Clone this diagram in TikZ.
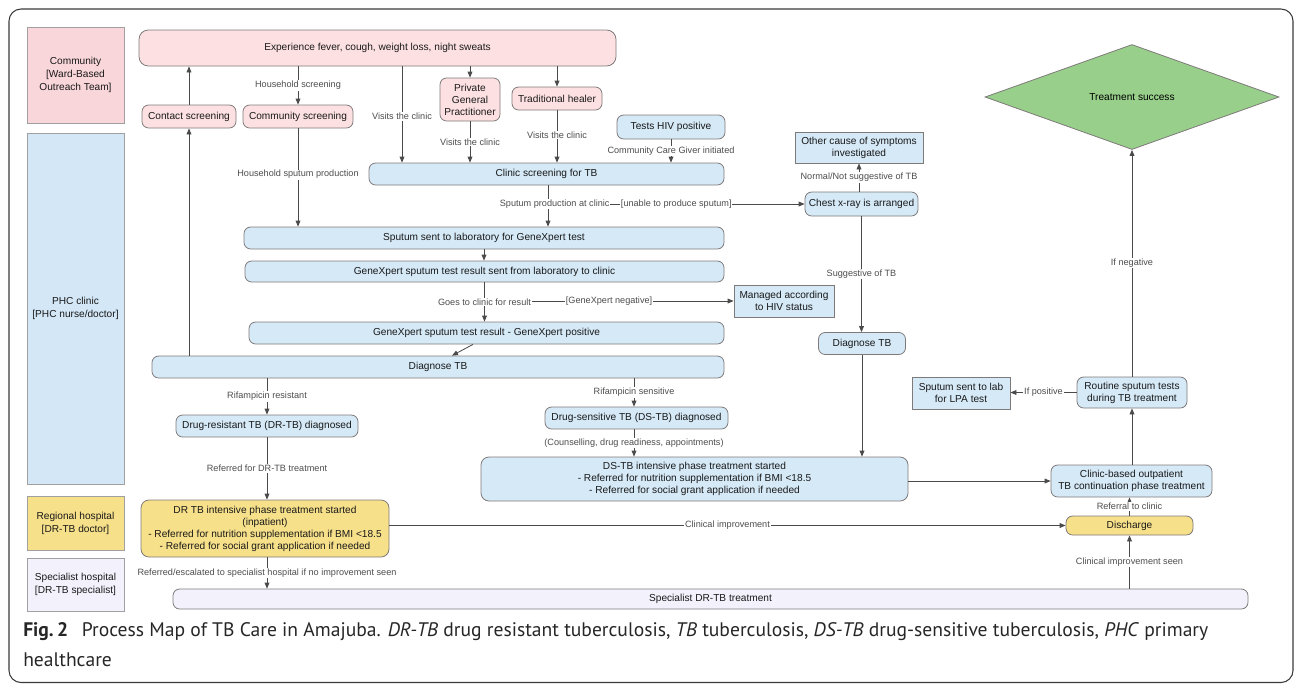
\documentclass[tikz,border=0pt]{standalone}
\usepackage{fontspec}
\usepackage{graphicx}
\setmainfont{Liberation Sans}
\newfontfamily\capfont{PT Sans}
\usetikzlibrary{arrows.meta,shapes.geometric,calc}
\definecolor{pinkf}{HTML}{FDE1E2}
\definecolor{pinklane}{HTML}{F9D6D9}
\definecolor{bluef}{HTML}{D5E9F7}
\definecolor{bluelane}{HTML}{D3E7F6}
\definecolor{yellowf}{HTML}{F7E08A}
\definecolor{lavf}{HTML}{F3F1FC}
\definecolor{greenf}{HTML}{98CF8A}
\definecolor{edgec}{HTML}{7F7A7A}
\definecolor{lanec}{HTML}{A0A0A0}
\definecolor{linec}{HTML}{4A4A4A}
\definecolor{lblc}{HTML}{4D4D4D}
\definecolor{framec}{HTML}{3A3A3A}
\newlength\capw
\newcommand\capone{{\bfseries Fig.\,2}\hspace{0.7em}Process Map of TB Care in Amajuba. \textit{DR-TB} drug resistant tuberculosis, \textit{TB} tuberculosis, \textit{DS-TB} drug-sensitive tuberculosis, \textit{PHC} primary}
\tikzset{
  box/.style={draw=edgec, line width=0.6pt, rounded corners=5pt, inner sep=1pt, align=center,
    font=\fontsize{7.6}{9}\selectfont, text=black!90},
  sqbox/.style={box, sharp corners},
  lane/.style={draw=lanec, line width=0.6pt, inner sep=1pt, align=center,
    font=\fontsize{7.6}{9.8}\selectfont, text=black!90},
  arr/.style={draw=linec, line width=0.6pt, -{Triangle[length=4.5pt,width=3.6pt]}},
  lbl/.style={fill=white, inner sep=0.6pt, font=\fontsize{6.85}{8}\selectfont, text=lblc},
}
\begin{document}
\settowidth\capw{\capfont\fontsize{10}{12}\selectfont\capone}
\begin{tikzpicture}[x=0.75pt,y=-0.75pt]
\useasboundingbox (0,0) rectangle (1295,683);
\pgfmathsetmacro\capscale{888.75pt/\capw}
% frame
\draw[framec, line width=0.8pt, rounded corners=9pt] (9,9) rectangle (1293,682.5);
% lanes
\node[lane, fill=pinklane, minimum width=72.75pt, minimum height=72pt] (laneC) at (75.5,75) {Community\\{}[Ward-Based\\Outreach Team]};
\node[lane, fill=bluelane, minimum width=72.75pt, minimum height=263.25pt] (laneP) at (75.5,308.5) {PHC clinic\\{}[PHC nurse/doctor]};
\node[lane, fill=yellowf, minimum width=72.75pt, minimum height=40.5pt] (laneR) at (75.5,523) {Regional hospital\\{}[DR-TB doctor]};
\node[lane, fill=lavf, minimum width=72.75pt, minimum height=39.75pt] (laneS) at (75.5,584.5) {Specialist hospital\\{}[DR-TB specialist]};
% nodes
\node[box, fill=pinkf, minimum width=357.75pt, minimum height=27pt, rounded corners=7pt] (exp) at (377.5,48) {Experience fever, cough, weight loss, night sweats};
\node[box, fill=pinkf, minimum width=70.5pt, minimum height=17.25pt] (contact) at (189,116.5) {Contact screening};
\node[box, fill=pinkf, minimum width=82.5pt, minimum height=17.25pt] (commscr) at (298,116.5) {Community screening};
\node[box, fill=pinkf, minimum width=45pt, minimum height=32.25pt] (gp) at (470,99.5) {Private\\General\\Practitioner};
\node[box, fill=pinkf, minimum width=67.5pt, minimum height=17.25pt] (healer) at (557,98.5) {Traditional healer};
\node[box, fill=bluef, minimum width=81pt, minimum height=18pt] (hiv) at (671,127) {Tests HIV positive};
\node[box, fill=bluef, minimum width=266.25pt, minimum height=16.5pt] (clinic) at (546.5,174) {Clinic screening for TB};
\node[sqbox, fill=bluef, minimum width=96pt, minimum height=23.25pt] (other) at (859,147.5) {Other cause of symptoms\\investigated};
\node[box, fill=bluef, minimum width=84.75pt, minimum height=18pt] (xray) at (861.5,204) {Chest x-ray is arranged};
\node[box, fill=bluef, minimum width=360pt, minimum height=16.5pt] (sputum) at (484,238) {Sputum sent to laboratory for GeneXpert test};
\node[box, fill=bluef, minimum width=359.25pt, minimum height=15.75pt] (gxsent) at (484.5,271.5) {GeneXpert sputum test result sent from laboratory to clinic};
\node[sqbox, fill=bluef, minimum width=75pt, minimum height=24pt] (managed) at (784,301) {Managed according\\to HIV status};
\node[box, fill=bluef, minimum width=356.25pt, minimum height=16.5pt] (gxpos) at (486.5,333) {GeneXpert sputum test result - GeneXpert positive};
\node[box, fill=bluef, minimum width=429pt, minimum height=16.5pt] (diag) at (438,367) {Diagnose TB};
\node[box, fill=bluef, minimum width=65.25pt, minimum height=16.5pt] (diag2) at (862,343.5) {Diagnose TB};
\node[box, fill=bluef, minimum width=136.5pt, minimum height=16.5pt] (drdiag) at (267,426) {Drug-resistant TB (DR-TB) diagnosed};
\node[box, fill=bluef, minimum width=137.25pt, minimum height=16.5pt] (dsdiag) at (636.5,418) {Drug-sensitive TB (DS-TB) diagnosed};
\node[box, fill=bluef, minimum width=320.25pt, minimum height=33pt, rounded corners=6pt] (dsint) at (694.5,479) {DS-TB intensive phase treatment started\\- Referred for nutrition supplementation if BMI <18.5\\- Referred for social grant application if needed};
\node[diamond, draw=edgec, line width=0.6pt, fill=greenf, inner sep=0pt, minimum width=220.5pt, minimum height=78.75pt, font=\fontsize{7.6}{9}\selectfont] (success) at (1132,97) {Treatment success};
\node[box, fill=bluef, minimum width=82.5pt, minimum height=23.25pt] (routine) at (1132,392.5) {Routine sputum tests\\during TB treatment};
\node[sqbox, fill=bluef, minimum width=73.5pt, minimum height=24pt] (lpa) at (961,393) {Sputum sent to lab\\for LPA test};
\node[box, fill=bluef, minimum width=120.75pt, minimum height=24pt] (cbo) at (1131.5,481) {Clinic-based outpatient\\TB continuation phase treatment};
\node[box, fill=yellowf, minimum width=95.25pt, minimum height=14.25pt] (discharge) at (1129.5,525.5) {Discharge};
\node[box, fill=yellowf, minimum width=186pt, minimum height=42.75pt, rounded corners=6pt] (drint) at (265,528.5) {DR TB intensive phase treatment started\\(inpatient)\\- Referred for nutrition supplementation if BMI <18.5\\- Referred for social grant application if needed};
\node[box, fill=lavf, minimum width=806.25pt, minimum height=15pt] (spec) at (710.5,599) {Specialist DR-TB treatment};
% helper coordinates
\coordinate (x402) at (402,0);
\coordinate (x548) at (548,0);
\coordinate (x473) at (473,0);
\coordinate (x452) at (452,0);
\coordinate (x634) at (634,0);
% edges
\draw[arr] (diag.north -| contact) -- (contact.south);
\draw[arr] (contact.north) -- (exp.south -| contact);
\draw[arr] (exp.south -| commscr) -- node[lbl]{Household screening} (commscr.north);
\draw[arr] (commscr.south) -- node[lbl,pos=.47]{Household sputum production} (sputum.north -| commscr);
\draw[arr] (exp.south -| x402) -- node[lbl,pos=.52]{Visits the clinic} (clinic.north -| x402);
\draw[arr] (exp.south -| gp) -- (gp.north);
\draw[arr] (gp.south) -- node[lbl]{Visits the clinic} (clinic.north -| gp);
\draw[arr] (exp.south -| healer) -- (healer.north);
\draw[arr] (healer.south) -- node[lbl,pos=.47]{Visits the clinic} (clinic.north -| healer);
\draw[arr] (hiv.south) -- node[lbl]{Community Care Giver initiated} (clinic.north -| hiv);
\draw[arr] (clinic.south -| x548) |- node[lbl,pos=.75]{[unable to produce sputum]} (xray.west);
\draw[arr] (clinic.south -| x548) -- node[lbl,pos=.45,xshift=5pt]{Sputum production at clinic} (sputum.north -| x548);
\draw[arr] (xray.north -| other) -- node[lbl]{Normal/Not suggestive of TB} (other.south);
\draw[arr] (xray.south) -- node[lbl]{Suggestive of TB} (diag2.north -| xray);
\draw[arr] (sputum.south) -- (gxsent.north -| sputum);
\draw[arr] (gxsent.south) |- node[lbl,pos=.75]{[GeneXpert negative]} (managed.west);
\draw[arr] (gxsent.south) -- node[lbl]{Goes to clinic for result} (gxpos.north -| gxsent);
\draw[arr] (gxpos.south -| x473) -- (diag.north -| x452);
\draw[arr] (diag.south -| drdiag) -- node[lbl]{Rifampicin resistant} (drdiag.north);
\draw[arr] (diag.south -| x634) -- node[lbl]{Rifampicin sensitive} (dsdiag.north -| x634);
\draw[arr] (dsdiag.south -| x634) -- node[lbl]{(Counselling, drug readiness, appointments)} (dsint.north -| x634);
\draw[arr] (diag2.south) -- (dsint.north -| diag2);
\draw[arr] (drdiag.south) -- node[lbl]{Referred for DR-TB treatment} (drint.north -| drdiag);
\draw[arr] (dsint.east |- cbo.west) -- (cbo.west);
\draw[arr] (cbo.north -| routine) -- (routine.south);
\draw[arr] (routine.west) -- node[lbl]{If positive} (lpa.east |- routine.west);
\draw[arr] (routine.north) -- node[lbl]{If negative} (success.south);
\draw[arr] (drint.east |- discharge.west) -- node[lbl]{Clinical improvement} (discharge.west);
\draw[arr] (discharge.north) -- node[lbl]{Referral to clinic} (cbo.south -| discharge);
\draw[arr] (drint.south -| drdiag) -- node[lbl]{Referred/escalated to specialist hospital if no improvement seen} (spec.north -| drdiag);
\draw[arr] (spec.north -| discharge) -- node[lbl]{Clinical improvement seen} (discharge.south);
% caption
\node[anchor=west, inner sep=0pt, text=black!85] (cap1) at (23,632) {\scalebox{\capscale}{\capfont\fontsize{10}{12}\selectfont\capone}};
\node[anchor=west, inner sep=0pt, text=black!85] (cap2) at (23,660) {\scalebox{\capscale}{\capfont\fontsize{10}{12}\selectfont healthcare}};
\end{tikzpicture}
\end{document}
